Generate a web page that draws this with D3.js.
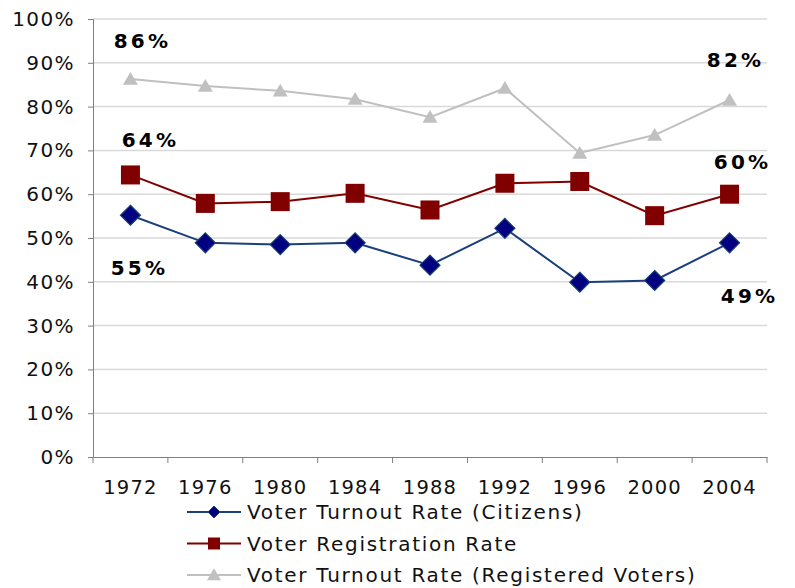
<!DOCTYPE html>
<html>
<head>
<meta charset="utf-8">
<script src="https://cdn.jsdelivr.net/npm/d3@7"></script>
<style>
  body { margin: 0; background: #fff; }
  text { font-family: "DejaVu Sans", Verdana, sans-serif; }
</style>
</head>
<body>
<script>
// data
var years = ['1972', '1976', '1980', '1984', '1988', '1992', '1996', '2000', '2004'];
var turnoutCitizens = [0.552, 0.489, 0.485, 0.489, 0.438, 0.522, 0.399, 0.403, 0.489];
var registration = [0.644, 0.579, 0.583, 0.602, 0.564, 0.625, 0.629, 0.551, 0.600];
var turnoutRegistered = [0.863, 0.847, 0.836, 0.817, 0.776, 0.842, 0.694, 0.735, 0.815];
var seriesNames = ['Voter Turnout Rate (Citizens)', 'Voter Registration Rate', 'Voter Turnout Rate (Registered Voters)'];
var yTicks = [0, 0.1, 0.2, 0.3, 0.4, 0.5, 0.6, 0.7, 0.8, 0.9, 1];

var series = [
  {name: seriesNames[0], values: turnoutCitizens, color: '#1a3f7a', fill: '#000080', shape: 'diamond'},
  {name: seriesNames[1], values: registration, color: '#800000', fill: '#800000', shape: 'square'},
  {name: seriesNames[2], values: turnoutRegistered, color: '#c0c0c0', fill: '#c0c0c0', shape: 'triangle'}
];

// labels at first and last points: [series index, year index, dx, dy]
var callouts = [
  [2, 0, 12, -31], [1, 0, 20, -28], [0, 0, 9, 60],
  [2, 8, 6, -33], [1, 8, 13, -25], [0, 8, 20, 60]
];

var svg = d3.select('body').append('svg')
    .attr('width', 795)
    .attr('height', 588);

var x = d3.scaleBand().domain(years).range([93, 767]);
var y = d3.scaleLinear().domain([0, 1]).range([457, 19]);
var fmt = d3.format('.0%');

// gridlines
svg.append('g').selectAll('line')
    .data(yTicks.slice(1))
    .enter().append('line')
    .attr('x1', 93).attr('x2', 767)
    .attr('y1', function(d) { return y(d); })
    .attr('y2', function(d) { return y(d); })
    .attr('stroke', '#d9d9d9')
    .attr('stroke-width', 1.5);

// y axis
var yAxis = svg.append('g')
    .attr('transform', 'translate(93,0)')
    .call(d3.axisLeft(y).tickValues(yTicks).tickFormat(fmt).tickSize(5).tickPadding(13));
yAxis.select('.domain').attr('stroke', '#7f7f7f');
yAxis.selectAll('.tick line').attr('stroke', '#7f7f7f');
yAxis.selectAll('text')
    .attr('font-size', 20).attr('fill', '#111')
    .attr('letter-spacing', 1.4)
    .style('font-family', '"DejaVu Sans", sans-serif');

// x axis
var xAxis = svg.append('g')
    .attr('transform', 'translate(0,457)')
    .call(d3.axisBottom(x).tickSize(0).tickPadding(23));
xAxis.select('.domain').attr('stroke', '#7f7f7f');
xAxis.selectAll('text')
    .attr('font-size', 19.5).attr('fill', '#111')
    .attr('letter-spacing', 1.2)
    .style('font-family', '"DejaVu Sans", sans-serif');
// ticks at the category edges
svg.append('g').selectAll('line')
    .data(years.concat(['end']))
    .enter().append('line')
    .attr('x1', function(d) { return d == 'end' ? x.range()[1] : x(d); })
    .attr('x2', function(d) { return d == 'end' ? x.range()[1] : x(d); })
    .attr('y1', 457).attr('y2', 463)
    .attr('stroke', '#7f7f7f');

function cx(i) { return x(years[i]) + x.bandwidth() / 2; }

function marker(sel, shape, size) {
  if (shape == 'diamond') {
    return sel.append('path')
        .attr('d', 'M0,' + (-size) + 'L' + size + ',0L0,' + size + 'L' + (-size) + ',0Z');
  } else if (shape == 'square') {
    return sel.append('rect')
        .attr('x', -size).attr('y', -size)
        .attr('width', size * 2).attr('height', size * 2);
  } else {
    return sel.append('path')
        .attr('d', 'M0,' + (-size * 0.95) + 'L' + size + ',' + (size * 0.75) + 'L' + (-size) + ',' + (size * 0.75) + 'Z');
  }
}

var line = d3.line()
    .x(function(d, i) { return cx(i); })
    .y(function(d) { return y(d); });

// draw gray first so the others sit on top
series.slice().reverse().forEach(function(s) {
  svg.append('path')
      .datum(s.values)
      .attr('d', line)
      .attr('fill', 'none')
      .attr('stroke', s.color)
      .attr('stroke-width', 2);

  s.values.forEach(function(v, i) {
    var g = svg.append('g').attr('transform', 'translate(' + cx(i) + ',' + y(v) + ')');
    var size = s.shape == 'triangle' ? 7.5 : (s.shape == 'square' ? 9.5 : 10);
    marker(g, s.shape, size)
        .attr('fill', s.fill)
        .attr('stroke', s.shape == 'diamond' ? '#17406d' : 'none')
        .attr('stroke-width', 1.2);
  });
});

// callout labels
svg.append('g').selectAll('text')
    .data(callouts)
    .enter().append('text')
    .attr('x', function(d) { return cx(d[1]) + d[2]; })
    .attr('y', function(d) { return y(series[d[0]].values[d[1]]) + d[3]; })
    .attr('text-anchor', 'middle')
    .attr('font-size', 20)
    .attr('font-weight', 'bold')
    .attr('letter-spacing', 3.2)
    .attr('fill', '#000')
    .text(function(d) { return fmt(series[d[0]].values[d[1]]); });

// legend
var legend = svg.append('g').selectAll('g')
    .data(series)
    .enter().append('g')
    .attr('transform', function(d, i) { return 'translate(187,' + (512 + i * 31.5) + ')'; });

legend.append('line')
    .attr('x1', 0).attr('x2', 54)
    .attr('stroke', function(d) { return d.color; })
    .attr('stroke-width', 2);

legend.each(function(d) {
  var g = d3.select(this).append('g').attr('transform', 'translate(27,0)');
  marker(g, d.shape, d.shape == 'triangle' ? 7 : 6)
      .attr('fill', d.fill)
      .attr('stroke', d.shape == 'diamond' ? '#17406d' : 'none');
});

legend.append('text')
    .attr('x', 60)
    .attr('y', 7)
    .attr('font-size', 20)
    .attr('letter-spacing', 1.7)
    .attr('fill', '#111')
    .text(function(d) { return d.name; });
</script>
</body>
</html>
